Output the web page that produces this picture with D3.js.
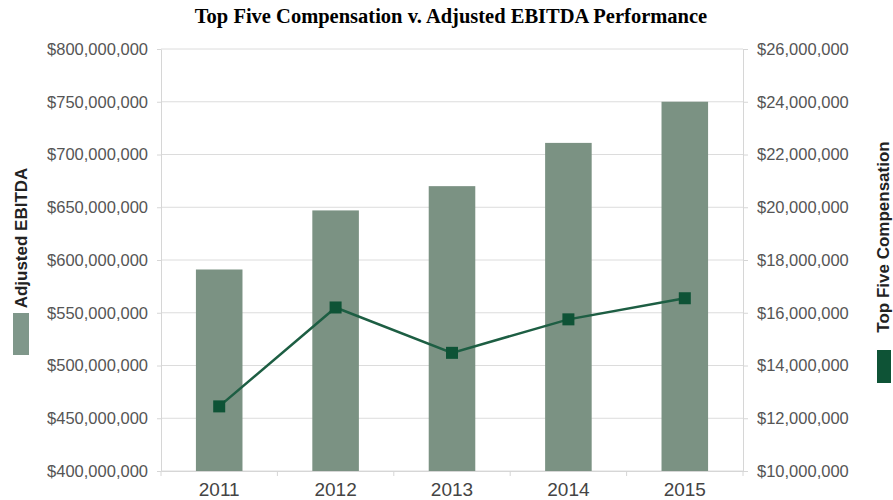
<!DOCTYPE html>
<html>
<head>
<meta charset="utf-8">
<script src="https://cdnjs.cloudflare.com/ajax/libs/d3/7.8.5/d3.min.js"></script>
<style>
    body { margin: 0; background: #fff; }
    .axis text { font-family: "Liberation Sans", Arial, sans-serif; fill: #555; }
    .axis path, .axis line { stroke: #d6d6d6; }
    .grid line { stroke: #dcdcdc; }
    .chart-title { font-family: "Liberation Serif", "Times New Roman", serif; font-weight: bold; font-size: 20.5px; fill: #000; }
    .legend-label { font-family: "Liberation Sans", Arial, sans-serif; font-weight: bold; font-size: 17px; fill: #222; }
</style>
</head>
<body>
<div id="chart"></div>
<script>

// Data
var years = ['2011', '2012', '2013', '2014', '2015'];
var adjustedEbitda = [591000000, 647000000, 670000000, 711000000, 750000000];
var topFiveComp = [12450000, 16200000, 14480000, 15750000, 16550000];

var leftTicks = [400000000, 450000000, 500000000, 550000000, 600000000, 650000000, 700000000, 750000000, 800000000];
var rightTicks = [10000000, 12000000, 14000000, 16000000, 18000000, 20000000, 22000000, 24000000, 26000000];

var margin = { top: 49, right: 150, bottom: 29, left: 161 };
var width = 893 - margin.left - margin.right,
    height = 500 - margin.top - margin.bottom;

var svg = d3.select('#chart')
    .append('svg')
    .attr('width', 893)
    .attr('height', 500);

var g = svg.append('g')
    .attr('transform', 'translate(' + margin.left + ',' + margin.top + ')');

// Scales
var x = d3.scaleBand()
    .domain(years)
    .range([0, width])
    .paddingInner(0.6)
    .paddingOuter(0.3);

var yLeft = d3.scaleLinear()
    .domain([400000000, 800000000])
    .range([height, 0]);

var yRight = d3.scaleLinear()
    .domain([10000000, 26000000])
    .range([height, 0]);

var money = d3.format('$,');

// Gridlines
g.append('g')
    .attr('class', 'grid')
    .selectAll('line')
    .data(leftTicks)
    .enter()
    .append('line')
    .attr('x1', 0)
    .attr('x2', width)
    .attr('y1', function(d) { return yLeft(d); })
    .attr('y2', function(d) { return yLeft(d); });

// Left axis
g.append('g')
    .attr('class', 'axis y-left')
    .call(d3.axisLeft(yLeft).tickValues(leftTicks).tickFormat(money).tickSize(4).tickPadding(9).tickSizeOuter(0))
    .selectAll('text')
    .style('font-size', '16.5px');

// Right axis
g.append('g')
    .attr('class', 'axis y-right')
    .attr('transform', 'translate(' + width + ',0)')
    .call(d3.axisRight(yRight).tickValues(rightTicks).tickFormat(money).tickSize(5).tickPadding(9).tickSizeOuter(0))
    .selectAll('text')
    .style('font-size', '16.5px');

// Bottom axis - labels at band centres, ticks at band boundaries
var xAxis = g.append('g')
    .attr('class', 'axis x-axis')
    .attr('transform', 'translate(0,' + height + ')')
    .call(d3.axisBottom(x).tickSize(0).tickPadding(12).tickSizeOuter(0));

xAxis.selectAll('text')
    .style('font-size', '19px')
    .style('fill', '#444');

var step = x.step();
xAxis.selectAll('.bound')
    .data(d3.range(years.length + 1))
    .enter()
    .append('line')
    .attr('class', 'bound')
    .attr('x1', function(i) { return i * step; })
    .attr('x2', function(i) { return i * step; })
    .attr('y1', 0)
    .attr('y2', 5);

// Bars
g.selectAll('.bar')
    .data(years)
    .enter()
    .append('rect')
    .attr('class', 'bar')
    .attr('x', function(d) { return x(d); })
    .attr('width', x.bandwidth())
    .attr('y', function(d, i) { return yLeft(adjustedEbitda[i]); })
    .attr('height', function(d, i) { return height - yLeft(adjustedEbitda[i]); })
    .attr('fill', '#7b9283');

// Line
var line = d3.line()
    .x(function(d, i) { return x(years[i]) + x.bandwidth() / 2; })
    .y(function(d) { return yRight(d); });

g.append('path')
    .datum(topFiveComp)
    .attr('fill', 'none')
    .attr('stroke', '#1d5e43')
    .attr('stroke-width', 2.5)
    .attr('d', line);

// Markers
g.selectAll('.marker')
    .data(topFiveComp)
    .enter()
    .append('rect')
    .attr('class', 'marker')
    .attr('x', function(d, i) { return x(years[i]) + x.bandwidth() / 2 - 6; })
    .attr('y', function(d) { return yRight(d) - 6; })
    .attr('width', 12)
    .attr('height', 12)
    .attr('fill', '#0e5336');

// Title
svg.append('text')
    .attr('class', 'chart-title')
    .attr('x', 451)
    .attr('y', 23)
    .attr('text-anchor', 'middle')
    .text('Top Five Compensation v. Adjusted EBITDA Performance');

// Legend - left
svg.append('text')
    .attr('class', 'legend-label')
    .attr('transform', 'translate(27,238) rotate(-90)')
    .attr('text-anchor', 'middle')
    .text('Adjusted EBITDA');

svg.append('rect')
    .attr('x', 13)
    .attr('y', 313)
    .attr('width', 16)
    .attr('height', 42)
    .attr('fill', '#7f978a');

// Legend - right
svg.append('text')
    .attr('class', 'legend-label')
    .attr('transform', 'translate(889,237) rotate(-90)')
    .attr('text-anchor', 'middle')
    .text('Top Five Compensation');

svg.append('rect')
    .attr('x', 877)
    .attr('y', 350)
    .attr('width', 14)
    .attr('height', 33)
    .attr('fill', '#0e5336');

</script>
</body>
</html>
